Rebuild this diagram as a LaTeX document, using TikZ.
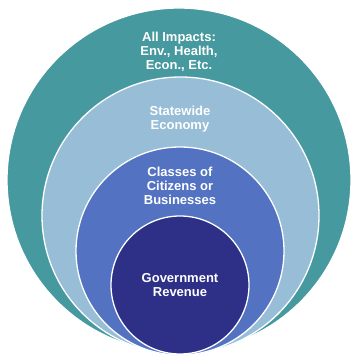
\documentclass[tikz,border=0pt]{standalone}
\usepackage{fontspec}
\setmainfont{Liberation Sans}
\usepackage{tikz}

\definecolor{impactteal}{HTML}{46999E}
\definecolor{statelight}{HTML}{98BDD7}
\definecolor{classblue}{HTML}{5373C2}
\definecolor{revnavy}{HTML}{2E2F87}

\begin{document}
\begin{tikzpicture}[x=1pt,y=1pt,
    ring/.style={circle, draw=white, line width=1.3pt, inner sep=0pt},
    ringtext/.style={text=white, align=center,
      font=\bfseries\fontsize{13}{14}\selectfont}]
  \useasboundingbox (0,0) rectangle (352,354);
  % nested rings, all resting on the same bottom point
  \node[ring, fill=impactteal, minimum size=344] (impacts) at (179,174) {};
  \node[ring, fill=statelight, minimum size=277] (economy) at (180.5,138.5) {};
  \node[ring, fill=classblue, minimum size=208] (classes) at (180,103) {};
  \node[ring, fill=revnavy, minimum size=138] (revenue) at (180,69) {};
  % labels
  \node[ringtext] (impactslbl) at (179,302) {All Impacts:\\Env., Health,\\Econ., Etc.};
  \node[ringtext] (economylbl) at (180,234.5) {Statewide\\Economy};
  \node[ringtext] (classeslbl) at (180,168) {Classes of\\Citizens or\\Businesses};
  \node[ringtext] (revenuelbl) at (180,69) {Government\\Revenue};
\end{tikzpicture}
\end{document}
